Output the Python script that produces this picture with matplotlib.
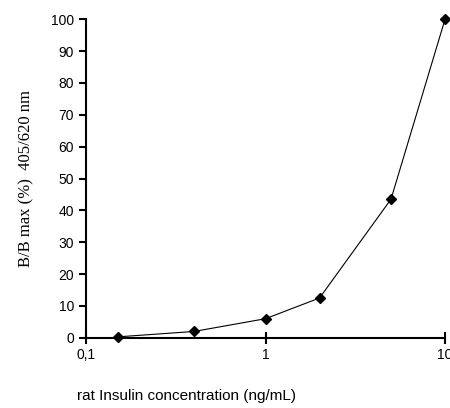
import matplotlib
matplotlib.use("Agg")
import matplotlib.pyplot as plt
from matplotlib.ticker import FixedLocator, NullLocator

conc = [0.15, 0.4, 1.0, 2.0, 5.0, 10.0]
bbmax = [0.3, 2.0, 6.0, 12.5, 43.5, 100.0]
xticks = [0.1, 1, 10]
xticklabels = ["0,1", "1", "10"]
yticks = list(range(0, 101, 10))

fig = plt.figure(figsize=(4.5, 4.08), dpi=100)
ax = fig.add_axes([0.191, 0.172, 0.798, 0.781])
ax.set_xscale("log")
ax.plot(conc, bbmax, color="black", lw=0.8, clip_on=False)
ax.plot(conc, bbmax, ls="none", marker="D", ms=5, color="black", clip_on=False)
ax.set_xlim(0.1, 10)
ax.set_ylim(0, 100)
ax.xaxis.set_major_locator(FixedLocator(xticks))
ax.xaxis.set_minor_locator(NullLocator())
ax.set_xticklabels(xticklabels, fontfamily="Liberation Sans", fontsize=10)
ax.set_yticks(yticks)
ax.set_yticklabels([str(v) for v in yticks], fontfamily="Liberation Sans", fontsize=10)
for s in ["top", "right"]:
    ax.spines[s].set_visible(False)
for s in ["left", "bottom"]:
    ax.spines[s].set_linewidth(1.5)
ax.tick_params(width=1.5, length=5)
ax.tick_params(axis="x", direction="inout", length=8)
ax.set_ylabel("B/B max (%)  405/620 nm", fontfamily="Liberation Serif", fontsize=12, labelpad=12)
fig.text(0.415, 0.03, "rat Insulin concentration (ng/mL)", fontfamily="Liberation Sans",
         fontsize=11, ha="center", va="center")
fig.savefig("out.png", dpi=100)
